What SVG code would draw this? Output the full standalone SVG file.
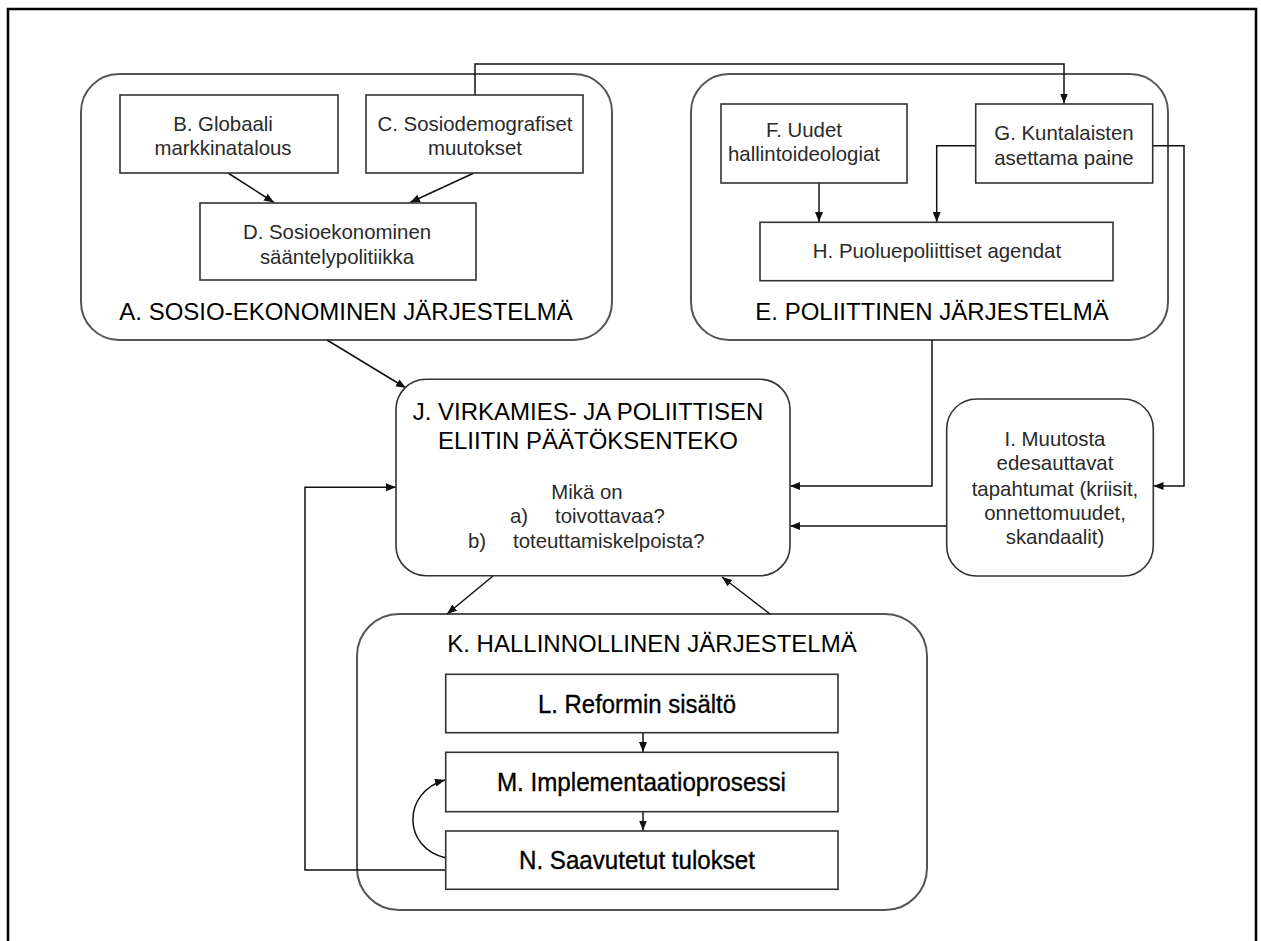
<svg xmlns="http://www.w3.org/2000/svg" width="1261" height="941" viewBox="0 0 1261 941">
<style>
.frame{fill:none;stroke:#000;stroke-width:2.5}
.grp{fill:#fff;stroke:#555;stroke-width:2}
.box{fill:#fff;stroke:#333;stroke-width:1.6}
.conn{fill:none;stroke:#111;stroke-width:1.5;marker-end:url(#ah)}
.t{font-family:"Liberation Sans",Arial,sans-serif;font-size:20.4px;fill:#2a2a2a;text-anchor:middle}
.tl{font-family:"Liberation Sans",Arial,sans-serif;font-size:20.4px;fill:#2a2a2a}
.ti{font-family:"Liberation Sans",Arial,sans-serif;font-size:24px;fill:#000;text-anchor:middle}
.tb{font-family:"Liberation Sans",Arial,sans-serif;font-size:25px;fill:#000;stroke:#000;stroke-width:0.35;text-anchor:middle}
</style>
<defs>
<marker id="ah" markerUnits="userSpaceOnUse" markerWidth="11" markerHeight="9" refX="10" refY="4" orient="auto">
<path d="M0,0 L10,4 L0,8 z" fill="#111"/>
</marker>
</defs>
<rect class="frame" x="8" y="9" width="1248" height="960"/>

<g id="A">
<rect class="grp" x="81" y="74" width="531" height="266" rx="38" ry="38"/>
<text class="ti" x="346" y="320">A. SOSIO-EKONOMINEN JÄRJESTELMÄ</text>
</g>
<g id="E">
<rect class="grp" x="691" y="74" width="477" height="266" rx="38" ry="38"/>
<text class="ti" x="932" y="319.5">E. POLIITTINEN JÄRJESTELMÄ</text>
</g>
<g id="K">
<rect class="grp" x="357" y="614" width="570" height="296" rx="42" ry="42"/>
<text class="ti" x="652" y="652">K. HALLINNOLLINEN JÄRJESTELMÄ</text>
</g>

<g id="connectors">
<path class="conn" d="M475,95 V64 H1064 V103.5"/>
<path class="conn" d="M228,173 L274,202.5"/>
<path class="conn" d="M474,173 L410,202.5"/>
<path class="conn" d="M819,183.3 V222"/>
<path class="conn" d="M975.7,145.7 H936.7 V222"/>
<path class="conn" d="M1152.7,145.7 H1184 V486 H1153.5"/>
<path class="conn" d="M932,340 V486 H790"/>
<path class="conn" d="M946.7,526 H790"/>
<path class="conn" d="M327,340 L406,388"/>
<path class="conn" d="M493,576 L447,614"/>
<path class="conn" d="M770,614 L722,577"/>
<path class="conn" d="M445.7,870 H305 V487.3 H396"/>
<path class="conn" d="M643,732.7 V752"/>
<path class="conn" d="M643,811.7 V830.5"/>
<path class="conn" d="M446,858 C402,848 402,792 445,780"/>
</g>

<g id="B">
<rect class="box" x="120" y="95" width="218" height="78"/>
<text class="t" x="223" y="131">B. Globaali</text>
<text class="t" x="223" y="155">markkinatalous</text>
</g>
<g id="C">
<rect class="box" x="366" y="95" width="217" height="78"/>
<text class="t" x="475" y="130.5">C. Sosiodemografiset</text>
<text class="t" x="475" y="154.5">muutokset</text>
</g>
<g id="D">
<rect class="box" x="200" y="203" width="276" height="77"/>
<text class="t" x="337" y="238.5">D. Sosioekonominen</text>
<text class="t" x="337" y="263.5">sääntelypolitiikka</text>
</g>
<g id="F">
<rect class="box" x="721" y="104" width="186" height="79"/>
<text class="t" x="804" y="137">F. Uudet</text>
<text class="t" x="804" y="161">hallintoideologiat</text>
</g>
<g id="G">
<rect class="box" x="975.7" y="104" width="177" height="79"/>
<text class="t" x="1064" y="140">G. Kuntalaisten</text>
<text class="t" x="1064" y="165">asettama paine</text>
</g>
<g id="H">
<rect class="box" x="760" y="222.3" width="353" height="58.4"/>
<text class="t" x="937" y="257.7">H. Puoluepoliittiset agendat</text>
</g>
<g id="J">
<rect class="box" x="396" y="379.3" width="394" height="196.4" rx="30" ry="30"/>
<text class="ti" x="588" y="419.6">J. VIRKAMIES- JA POLIITTISEN</text>
<text class="ti" x="588" y="448.6">ELIITIN PÄÄTÖKSENTEKO</text>
<text class="t" x="587" y="498.7">Mikä on</text>
<text class="tl" x="510" y="523">a)</text>
<text class="tl" x="555" y="523">toivottavaa?</text>
<text class="tl" x="468" y="548">b)</text>
<text class="tl" x="513" y="548">toteuttamiskelpoista?</text>
</g>
<g id="I">
<rect class="box" x="946.7" y="399" width="206.6" height="177" rx="30" ry="30"/>
<text class="t" x="1055" y="446.3">I. Muutosta</text>
<text class="t" x="1055" y="470.3">edesauttavat</text>
<text class="t" x="1055" y="496.3">tapahtumat (kriisit,</text>
<text class="t" x="1055" y="520.3">onnettomuudet,</text>
<text class="t" x="1055" y="544.3">skandaalit)</text>
</g>
<g id="L">
<rect class="box" x="445.7" y="674.3" width="392.3" height="58.4"/>
<text class="tb" x="637" y="712.5" textLength="198" lengthAdjust="spacingAndGlyphs">L. Reformin sisältö</text>
</g>
<g id="M">
<rect class="box" x="445.7" y="752.3" width="392.3" height="59.4"/>
<text class="tb" x="641.4" y="790.5" textLength="289" lengthAdjust="spacingAndGlyphs">M. Implementaatioprosessi</text>
</g>
<g id="N">
<rect class="box" x="445.7" y="831" width="392.3" height="58.3"/>
<text class="tb" x="637" y="869" textLength="236" lengthAdjust="spacingAndGlyphs">N. Saavutetut tulokset</text>
</g>
</svg>
